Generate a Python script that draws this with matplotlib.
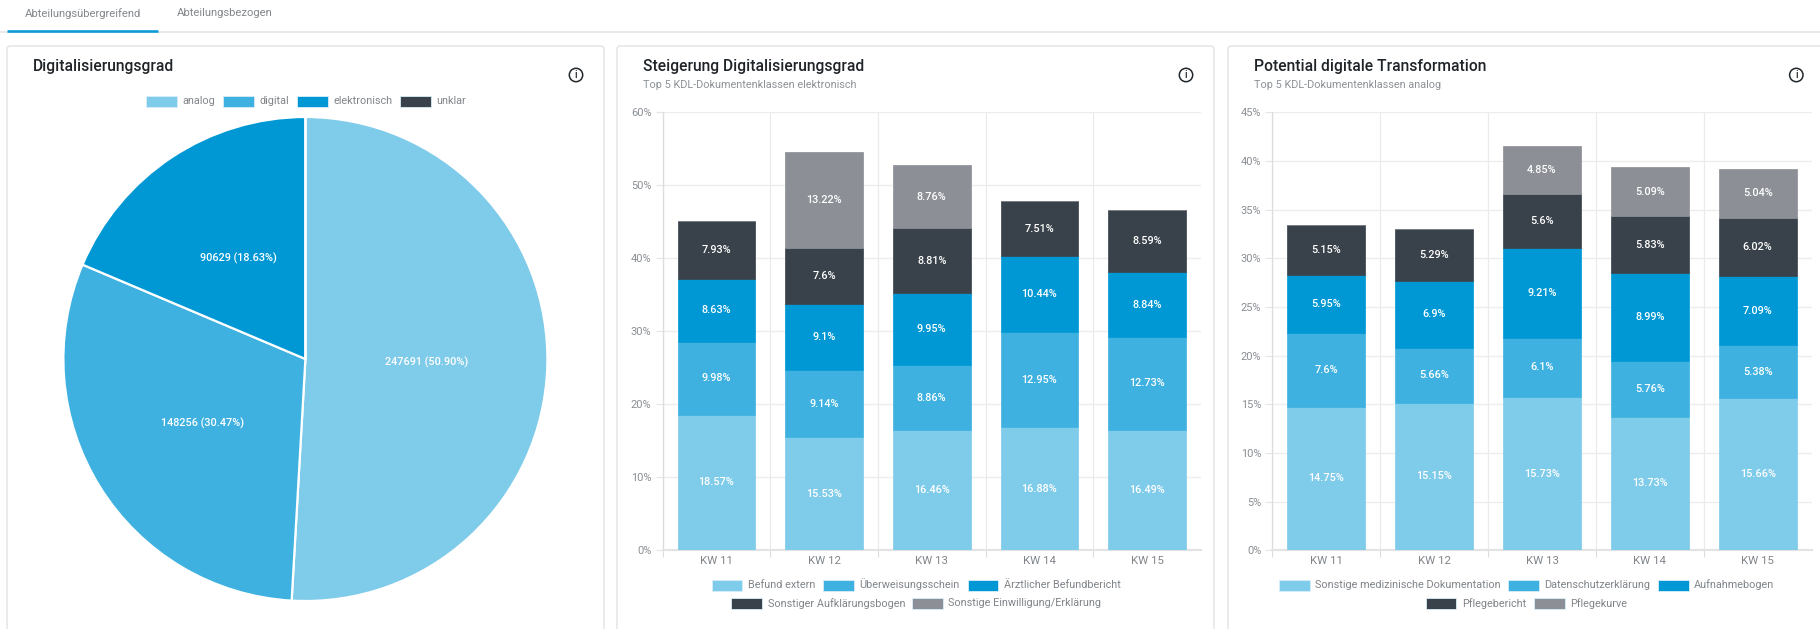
"""Dashboard: Digitalisierungsgrad pie plus two stacked weekly bar cards."""
import numpy as np
import matplotlib
matplotlib.use("Agg")
import matplotlib.pyplot as plt
from matplotlib.patches import Circle, FancyBboxPatch, Rectangle

W, H = 1820, 629

weeks = ["KW 11", "KW 12", "KW 13", "KW 14", "KW 15"]

pie_labels = ["analog", "digital", "elektronisch", "unklar"]
pie_values = [247691, 148256, 90629, 0]
pie_shares = ["50.90", "30.47", "18.63", "0.00"]

# Steigerung Digitalisierungsgrad
befund_extern = [18.57, 15.53, 16.46, 16.88, 16.49]
ueberweisung = [9.98, 9.14, 8.86, 12.95, 12.73]
befundbericht = [8.63, 9.1, 9.95, 10.44, 8.84]
aufklaerung = [7.93, 7.6, 8.81, 7.51, 8.59]
einwilligung = [0, 13.22, 8.76, 0, 0]
steigerung_names = ["Befund extern", "Überweisungsschein", "Ärztlicher Befundbericht",
                    "Sonstiger Aufklärungsbogen", "Sonstige Einwilligung/Erklärung"]

# Potential digitale Transformation
sonstige_doku = [14.75, 15.15, 15.73, 13.73, 15.66]
datenschutz = [7.6, 5.66, 6.1, 5.76, 5.38]
aufnahmebogen = [5.95, 6.9, 9.21, 8.99, 7.09]
pflegebericht = [5.15, 5.29, 5.6, 5.83, 6.02]
pflegekurve = [0, 0, 4.85, 5.09, 5.04]
potential_names = ["Sonstige medizinische Dokumentation", "Datenschutzerklärung", "Aufnahmebogen",
                   "Pflegebericht", "Pflegekurve"]

colors = ["#7fcbea", "#3eb1e0", "#0098d4", "#39424a", "#8c8f96"]

plt.rcParams["font.family"] = ["Roboto", "DejaVu Sans"]


def px(size):
    # font size in pt for a size in pixels at dpi 100
    return size * 0.72


def axes_at(fig, left, top, right, bottom):
    return fig.add_axes([left / W, 1 - bottom / H, (right - left) / W, (bottom - top) / H])


def draw_card(bg, left, right, title, title_x, icon_x, subtitle=None):
    bg.add_patch(FancyBboxPatch((left, 46), right - left, 640, boxstyle="round,pad=0,rounding_size=3",
                                fc="white", ec="#e9e9e9", lw=1.3))
    bg.text(title_x, 66.2, title, fontsize=px(15.6), color="#1f2429", va="center", fontweight=500)
    if subtitle:
        bg.text(title_x, 85.5, subtitle, fontsize=px(10.9), color="#8d9298", va="center")
    bg.add_patch(Circle((icon_x, 75), 6.7, fc="white", ec="#22272b", lw=1.1))
    bg.text(icon_x, 75.3, "i", fontsize=px(10), color="#22272b", ha="center", va="center", fontweight=500)


def legend_row(bg, y, items):
    # items: (patch left edge, text left edge, colour, label)
    for patch_x, text_x, color, label in items:
        bg.add_patch(Rectangle((patch_x, y - 5.5), 30.5, 11, fc=color, ec="#d9eef8", lw=0.6))
        bg.text(text_x, y - 0.5, label, fontsize=px(10.9), color="#80858a", va="center")


def stacked_bars(fig, left, right, series, ymax, ystep):
    ax = axes_at(fig, left, 112.3, right, 550.2)
    x = np.arange(len(weeks))
    bottom = np.zeros(len(weeks))
    for values, color in zip(series, colors):
        bars = ax.bar(x, values, 0.72, bottom=bottom, color=color, edgecolor=color, linewidth=0.5,
                      zorder=3)
        for bar, v in zip(bars, values):
            if v > 0:
                ax.text(bar.get_x() + bar.get_width() / 2, bar.get_y() + v / 2, f"{v:g}%",
                        color="white", fontsize=px(10.9), fontweight=500, ha="center", va="center",
                        zorder=4)
        bottom += np.array(values)

    ax.set_xlim(-0.5, 4.5)
    ax.set_ylim(0, ymax)
    ax.set_xticks(x, weeks)
    ax.set_xticks(np.arange(5) - 0.5, minor=True)
    yticks = np.arange(0, ymax + 1, ystep)
    ax.set_yticks(yticks, [f"{t}%" for t in yticks])
    ax.tick_params(axis="x", which="major", length=0, labelsize=px(11.4), labelcolor="#80858a", pad=4.5)
    ax.tick_params(axis="x", which="minor", length=5, color="#dcdcdc", width=0.8)
    ax.tick_params(axis="y", length=5, color="#e6e6e6", width=0.8, labelsize=px(11),
                   labelcolor="#8a8e93", pad=3)
    ax.grid(True, axis="y", color="#ededed", lw=1, zorder=0)
    ax.grid(True, axis="x", which="minor", color="#ebebeb", lw=0.9, zorder=0)
    ax.grid(False, axis="x", which="major")
    for side in ("top", "right"):
        ax.spines[side].set_visible(False)
    ax.spines["left"].set_color("#dcdcdc")
    ax.spines["left"].set_linewidth(0.9)
    ax.spines["bottom"].set_color("#e3e3e3")
    ax.spines["bottom"].set_linewidth(1.5)
    return ax


fig = plt.figure(figsize=(W / 100, H / 100), dpi=100, facecolor="white")

# pixel-space layer for the page chrome
bg = fig.add_axes([0, 0, 1, 1], zorder=-1)
bg.set_xlim(0, W)
bg.set_ylim(H, 0)
bg.axis("off")

# tabs
bg.plot([0, W], [32.3, 32.3], color="#e3e3e3", lw=1.1)
bg.plot([7, 158], [31.3, 31.3], color="#0f9ad6", lw=1.9, solid_capstyle="butt")
bg.text(25, 13.5, "Abteilungsübergreifend", fontsize=px(11.2), color="#83878c", va="center")
bg.text(176.5, 13.5, "Abteilungsbezogen", fontsize=px(11.2), color="#83878c", va="center")

draw_card(bg, 7, 604, "Digitalisierungsgrad", 33, 576)
draw_card(bg, 617, 1214, "Steigerung Digitalisierungsgrad", 643, 1186,
          "Top 5 KDL-Dokumentenklassen elektronisch")
draw_card(bg, 1228, 1900, "Potential digitale Transformation", 1253.5, 1796.3,
          "Top 5 KDL-Dokumentenklassen analog")

# pie
pie_ax = axes_at(fig, 305.4 - 242, 359 - 242, 305.4 + 242, 359 + 242)
wedges, _ = pie_ax.pie(pie_values, colors=colors, startangle=90, counterclock=False, radius=1,
                       wedgeprops={"edgecolor": "white", "linewidth": 1.6})
pie_ax.set_xlim(-1, 1)
pie_ax.set_ylim(-1, 1)
for wedge, value, share in zip(wedges, pie_values, pie_shares):
    if value > 0:
        mid = np.deg2rad((wedge.theta1 + wedge.theta2) / 2)
        pie_ax.text(0.5 * np.cos(mid), 0.5 * np.sin(mid), f"{value} ({share}%)", color="white",
                    fontsize=px(10.9), fontweight=500, ha="center", va="center")

legend_row(bg, 101.7, [(146, 182.5, colors[0], pie_labels[0]), (223, 259.5, colors[1], pie_labels[1]),
                       (297, 333, colors[2], pie_labels[2]), (400, 436, colors[3], pie_labels[3])])

# bar cards
stacked_bars(fig, 662.6, 1201, [befund_extern, ueberweisung, befundbericht, aufklaerung, einwilligung], 60, 10)
legend_row(bg, 585, [(711.6, 748.4, colors[0], steigerung_names[0]),
                     (823, 859.5, colors[1], steigerung_names[1]),
                     (967.5, 1004, colors[2], steigerung_names[2])])
legend_row(bg, 603.7, [(731, 767.8, colors[3], steigerung_names[3]),
                       (912, 948.5, colors[4], steigerung_names[4])])

stacked_bars(fig, 1272.4, 1811.6, [sonstige_doku, datenschutz, aufnahmebogen, pflegebericht, pflegekurve], 45, 5)
legend_row(bg, 585, [(1279, 1315, colors[0], potential_names[0]),
                     (1508, 1544.5, colors[1], potential_names[1]),
                     (1658, 1694, colors[2], potential_names[2])])
legend_row(bg, 603.7, [(1425.5, 1462, colors[3], potential_names[3]),
                       (1534, 1570, colors[4], potential_names[4])])

fig.savefig("out.png", dpi=100, facecolor="white")
